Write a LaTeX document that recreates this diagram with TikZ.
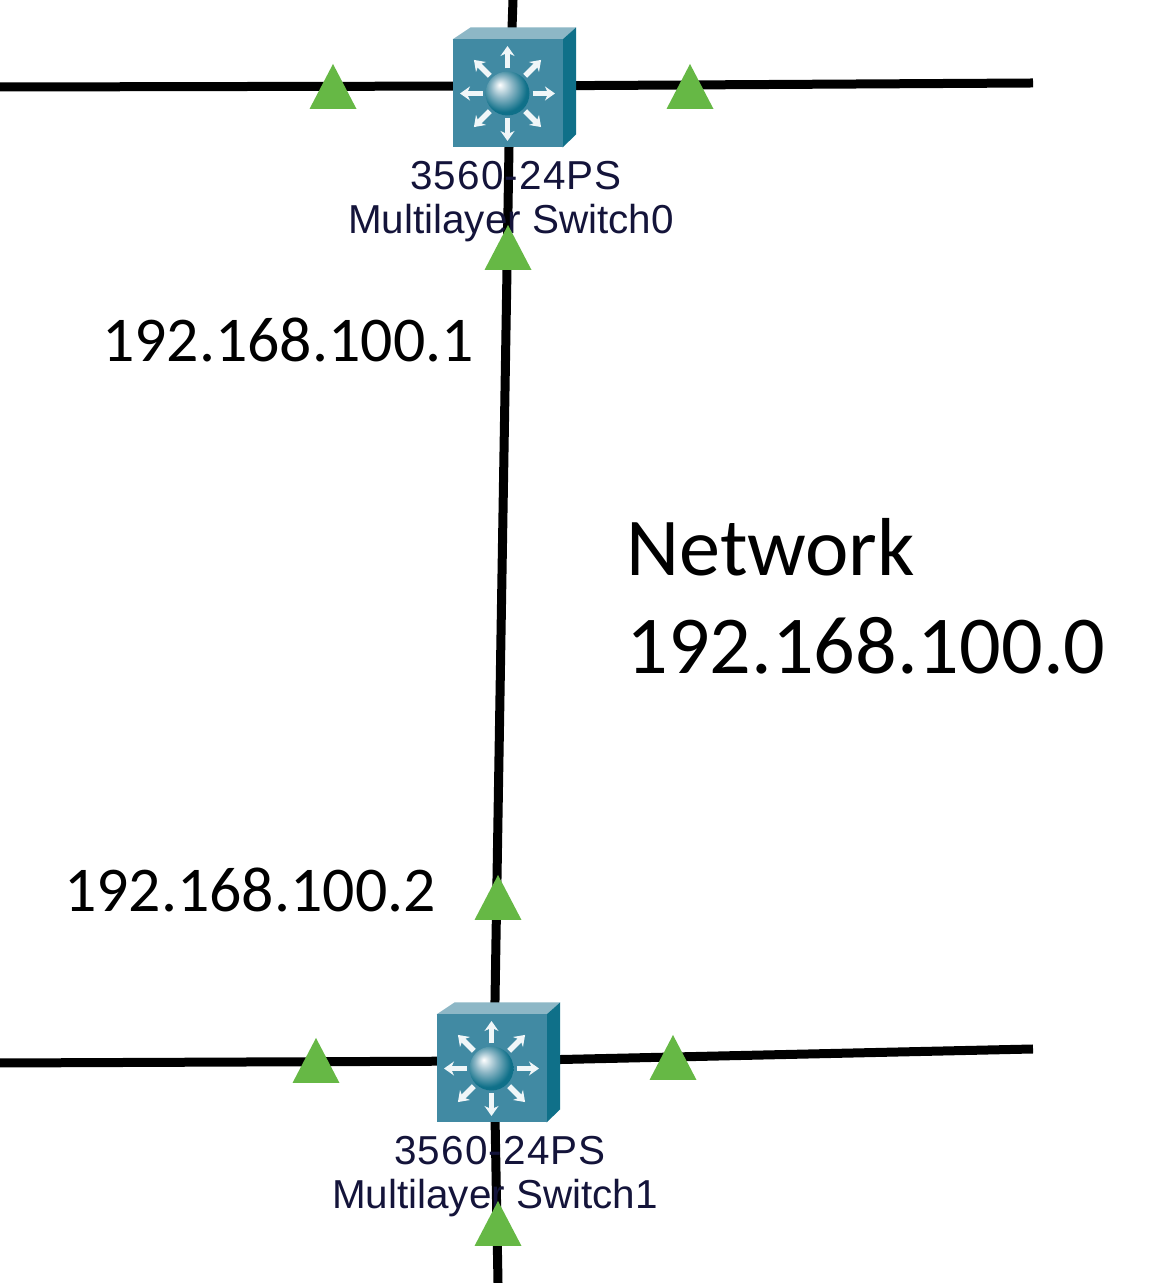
\documentclass[tikz,border=0pt]{standalone}
\usepackage{fontspec}
\usepackage{xcolor}
\usetikzlibrary{positioning, arrows.meta}
\newfontfamily\calibrifont{Carlito}
\newfontfamily\ptfont{Liberation Sans}
\definecolor{swfront}{HTML}{418AA3}
\definecolor{swtop}{HTML}{8DB7C6}
\definecolor{swside}{HTML}{0F7089}
\definecolor{linkgreen}{HTML}{66B845}
\definecolor{ptlabel}{HTML}{14143A}
\pgfdeclareradialshading{swglobe}{\pgfpoint{-9bp}{10bp}}{
  color(0bp)=(white);
  color(12bp)=(swtop);
  color(26bp)=(swside);
  color(50bp)=(swside)}

\begin{document}
\begin{tikzpicture}[
  swhub/.style={inner sep=0pt, minimum size=0pt},
  link/.style={line width=0.18cm, black},
  swlabel/.style={font=\ptfont\fontsize{23}{25}\selectfont, text=ptlabel, align=center, inner sep=0pt},
  iplabel/.style={font=\calibrifont\fontsize{36.3}{40}\selectfont, inner sep=0pt},
  netlabel/.style={font=\calibrifont\fontsize{46.8}{55.6}\selectfont, align=left, inner sep=0pt, anchor=west}
]
\useasboundingbox (0,0) rectangle (23.46,25.66);
\fill[white] (0,0) rectangle (23.46,25.66);

% Link crossings and free line ends
\node[swhub] (sw0) at (10.20, 23.94) {};
\node[swhub] (sw1) at (9.88, 4.44) {};
\coordinate (top0) at (10.26, 25.66);
\coordinate (left0) at (0, 23.92);
\coordinate (right0) at (20.66, 24.0);
\coordinate (left1) at (0, 4.40);
\coordinate (right1) at (20.66, 4.68);
\coordinate (bot1) at (9.96, 0);

% Links
\draw[link] (top0) -- (sw0);
\draw[link] (left0) -- (sw0);
\draw[link] (sw0) -- (right0);
\draw[link] (sw0) -- (sw1);
\draw[link] (left1) -- (sw1);
\draw[link] (sw1) -- (right1);
\draw[link] (sw1) -- (bot1);

% Switch icons
\foreach \nm in {0,1} {
  \begin{scope}[shift={(sw\nm)}, shift={(-0.05,-0.15)}]
    \fill[swtop] (-1.1,1.08) -- (-0.74,1.32) -- (1.37,1.32) -- (1.1,1.08) -- cycle;
    \fill[swside] (1.1,1.08) -- (1.37,1.32) -- (1.37,-0.82) -- (1.1,-1.08) -- cycle;
    \fill[swfront] (-1.1,-1.08) rectangle (1.1,1.08);
    \foreach \a in {0,45,...,315} {
      \draw[-{Stealth[width=0.28cm,length=0.2cm]}, white!92!swfront, line width=0.11cm] (\a:0.5) -- (\a:0.95);
    }
    \shade[shading=swglobe] (0,0) circle (0.44);
  \end{scope}
  \node[swlabel] (label\nm) at ([shift={(0.02,-2.32)}]sw\nm) {\hspace*{0.2cm}\addfontfeature{LetterSpace=3}3560-24PS\\Multilayer Switch\nm};
}

% Link lights
\foreach \x/\y in {6.66/23.48, 13.80/23.48, 10.16/20.26, 9.96/7.26, 6.32/4.00, 13.46/4.06, 9.96/0.74} {
  \fill[linkgreen] (\x-0.47,\y) -- (\x+0.47,\y) -- (\x,\y+0.9) -- cycle;
}

% Addresses
\node[iplabel] (ip0) at (5.76, 18.86) {192.168.100.1};
\node[iplabel] (ip1) at (5.00, 7.86) {192.168.100.2};
\node[netlabel] (net) at (12.52, 13.74) {Network\\192.168.100.0};
\end{tikzpicture}
\end{document}
